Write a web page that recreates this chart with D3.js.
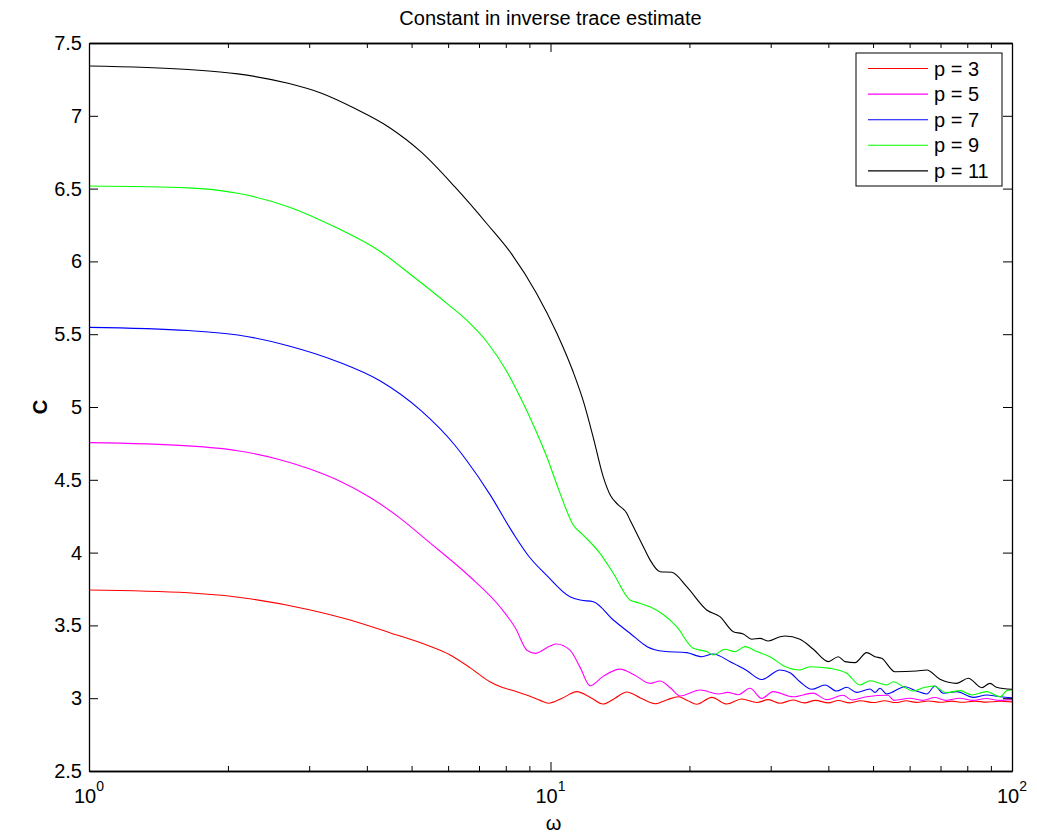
<!DOCTYPE html>
<html>
<head>
<meta charset="utf-8">
<script src="https://cdn.jsdelivr.net/npm/d3@7"></script>
<style>
  body { margin: 0; background: #fff; }
  text { font-family: "Liberation Sans", Arial, sans-serif; }
</style>
</head>
<body>
<div id="chart"></div>
<script>
// Constant in inverse trace estimate as [omega, C]

const p3 = [[1,3.743],[1.64,3.724],[2.23,3.683],[3.0,3.608],[3.68,3.537],[4.5,3.448],[5.39,3.365],[6.06,3.297],
  [6.69,3.21],[7.39,3.113],[7.77,3.08],[8.45,3.045],[9.0,3.015],[9.5,2.985],[9.89,2.965],[10.6,3.0],[11.4,3.045],
  [12.2,3.005],[13.0,2.96],[13.8,3.0],[14.63,3.043],[15.7,3.0],[16.84,2.962],[17.9,2.99],[18.92,3.01],
  [19.8,2.985],[20.74,2.958],[22.36,3.006],[24.09,2.96],[25.96,2.994],[27.99,2.97],[29.65,2.99],[31.43,2.965],
  [33.5,2.988],[35.5,2.968],[37.5,2.985],[40,2.968],[42,2.984],[44.5,2.968],[47,2.983],[50,2.97],[53,2.982],
  [56,2.97],[59,2.982],[62,2.971],[66,2.981],[70,2.972],[74,2.98],[78,2.972],[83,2.98],[88,2.973],[94,2.979],[100,2.975]];

const p5 = [[1,4.755],[1.64,4.733],[2.1,4.7],[2.57,4.641],[3.01,4.574],[3.5,4.49],[4.06,4.38],[4.72,4.237],
  [5.39,4.086],[6.69,3.834],[7.77,3.628],[8.4,3.48],[8.88,3.331],[9.26,3.308],[10,3.36],
  [10.28,3.372],[11.02,3.33],[11.6,3.21],[12.18,3.086],[13,3.15],[14.14,3.2],[15.2,3.16],[16.43,3.102],
  [17.27,3.118],[18.2,3.07],[19.08,3.015],[21.09,3.056],[23.1,3.029],[24.2,3.04],[25.5,3.024],[27.06,3.068],
  [28.68,2.999],[30.39,3.045],[33.55,3.01],[37.05,3.035],[39.68,2.99],[43.03,3.02],[45,2.988],[48.43,3.01],
  [53.85,3.02],[55.5,2.985],[60,3.0],[64,2.985],[68,3.005],[72,2.985],[77,3.0],[82,2.985],[88,2.998],[94,2.985],[100,2.99]];

const p7 = [[1,5.547],[1.64,5.525],[2.1,5.495],[2.7,5.421],[3.46,5.311],[4.27,5.18],[5.25,4.973],[6.2,4.739],
  [6.57,4.636],[7.39,4.4],[8.31,4.13],[9.0,3.97],[9.8,3.846],[11.02,3.697],[11.6,3.674],[12.38,3.663],
  [13.68,3.537],[14.87,3.446],[16.2,3.354],[17.6,3.322],[19.73,3.313],[21.27,3.285],[22.53,3.304],[24.48,3.251],
  [25.74,3.216],[26.62,3.19],[28.68,3.128],[31.43,3.194],[33.04,3.175],[34.72,3.113],[36.81,3.061],
  [39.34,3.091],[41.7,3.049],[43.83,3.075],[46.07,3.04],[49.24,3.063],[50.48,3.04],[51.76,3.068],[53.5,3.029],
  [58.64,3.079],[62.16,3.049],[65.35,3.029],[68.1,3.084],[70.98,3.034],[75.9,3.045],[82.44,3.006],[88.1,3.022],
  [94.4,3.01],[100,3.003]];

const p9 = [[1,6.518],[1.64,6.505],[2.1,6.468],[2.7,6.376],[3.46,6.227],[4.27,6.07],[5.0,5.905],[5.96,5.712],
  [6.6,5.593],[7.27,5.45],[8.0,5.256],[8.59,5.07],[9.2,4.87],[9.81,4.66],[10.49,4.407],[11.2,4.19],
  [11.78,4.12],[12.8,3.995],[13.68,3.858],[14.87,3.674],[15.63,3.652],[16.43,3.628],[18.77,3.491],[20.39,3.343],
  [21.8,3.32],[22.53,3.297],[23.88,3.336],[25.11,3.32],[26.39,3.354],[27.99,3.32],[29.89,3.285],[32.22,3.218],
  [34.72,3.194],[36.5,3.216],[40.33,3.205],[43.83,3.171],[46.83,3.091],[49.24,3.12],[53.5,3.091],[55.3,3.113],
  [58.15,3.079],[61.1,3.049],[64.24,3.072],[67.5,3.084],[72.2,3.038],[77.2,3.052],[81.8,3.022],[88.1,3.045],
  [94.4,3.01],[97.4,3.052],[100,3.056]];

const p11 = [[1,7.342],[1.64,7.318],[2.1,7.288],[2.7,7.223],[3.19,7.155],[3.77,7.05],[4.45,6.925],[5.25,6.75],
  [6.2,6.513],[7.32,6.25],[8.24,6.05],[9.33,5.78],[10.31,5.51],[11.2,5.24],[11.78,5.04],[12.38,4.79],[13.01,4.52],
  [13.5,4.39],[14.0,4.33],[14.63,4.27],[14.87,4.224],[16.02,4.018],[16.43,3.95],[17.27,3.869],[18.31,3.865],
  [19.73,3.766],[21.8,3.606],[23.29,3.56],[24.9,3.457],[26.17,3.441],[27.29,3.405],[28.44,3.411],[29.65,3.393],
  [31.43,3.422],[32.22,3.427],[34.72,3.405],[37.11,3.336],[39.99,3.251],[42.03,3.285],[43.46,3.251],[45.69,3.244],
  [48.43,3.313],[50.48,3.285],[52.2,3.274],[55.78,3.182],[62.16,3.187],[65.35,3.194],[69.8,3.13],[75.9,3.102],
  [80.4,3.137],[86.0,3.072],[89.6,3.102],[92.6,3.075],[100,3.061]];

const seriesNames = ["p = 3", "p = 5", "p = 7", "p = 9", "p = 11"];
const seriesColors = ["#ff0000", "#ff00ff", "#0000ff", "#00ff00", "#000000"];
const seriesData = [p3, p5, p7, p9, p11];

const xMajorTicks = [1, 10, 100];
const xMinorTicks = [2,3,4,5,6,7,8,9,20,30,40,50,60,70,80,90];
const yTicks = [2.5, 3, 3.5, 4, 4.5, 5, 5.5, 6, 6.5, 7, 7.5];

// sizes
const svgWidth = 1037, svgHeight = 835;
const margin = { top: 43, right: 25, bottom: 64, left: 89 };
const width = svgWidth - margin.left - margin.right;
const height = svgHeight - margin.top - margin.bottom;

const svg = d3.select("#chart").append("svg")
  .attr("width", svgWidth)
  .attr("height", svgHeight);

const g = svg.append("g")
  .attr("transform", `translate(${margin.left},${margin.top})`);

const x = d3.scaleLog().domain([1, 100]).range([0, width]);
const y = d3.scaleLinear().domain([2.5, 7.5]).range([height, 0]);

// curves (clipped to the axes box)
svg.append("defs").append("clipPath").attr("id", "clip")
  .append("rect").attr("width", width).attr("height", height);

const line = d3.line()
  .x(d => x(d[0]))
  .y(d => y(d[1]))
  .curve(d3.curveMonotoneX);

g.append("g").attr("clip-path", "url(#clip)")
  .selectAll("path")
  .data(seriesData)
  .join("path")
  .attr("d", line)
  .attr("fill", "none")
  .attr("stroke", (d, i) => seriesColors[i])
  .attr("stroke-width", 1.1);

// axes: ticks point inward on all four sides
function styleAxis(sel) {
  sel.selectAll(".domain").attr("stroke", "#000").attr("stroke-width", 1.3);
  sel.selectAll(".tick line").attr("stroke", "#000").attr("stroke-width", 1);
  sel.selectAll("text").attr("font-size", 20).attr("fill", "#000")
    .style("font-family", '"Liberation Sans", Arial, sans-serif');
}

g.append("g").attr("transform", `translate(0,${height})`)
  .call(d3.axisBottom(x).tickValues(xMajorTicks).tickSize(-9).tickSizeOuter(0).tickFormat(""))
  .call(styleAxis);
g.append("g").attr("transform", `translate(0,${height})`)
  .call(d3.axisBottom(x).tickValues(xMinorTicks).tickSize(-5).tickSizeOuter(0).tickFormat(""))
  .call(styleAxis);
g.append("g")
  .call(d3.axisTop(x).tickValues(xMajorTicks).tickSize(-9).tickSizeOuter(0).tickFormat(""))
  .call(styleAxis);
g.append("g")
  .call(d3.axisTop(x).tickValues(xMinorTicks).tickSize(-5).tickSizeOuter(0).tickFormat(""))
  .call(styleAxis);
g.append("g")
  .call(d3.axisLeft(y).tickValues(yTicks).tickSize(-9).tickSizeOuter(0).tickPadding(7).tickFormat(d3.format("")))
  .call(styleAxis);
g.append("g").attr("transform", `translate(${width},0)`)
  .call(d3.axisRight(y).tickValues(yTicks).tickSize(-9).tickSizeOuter(0).tickFormat(""))
  .call(styleAxis);

// x tick labels as 10 with superscript exponent
const xLab = g.append("g").selectAll("text")
  .data(xMajorTicks)
  .join("text")
  .attr("x", d => x(d))
  .attr("y", height + 32)
  .attr("text-anchor", "middle")
  .attr("font-size", 20);
xLab.append("tspan").text("10");
xLab.append("tspan")
  .attr("dy", -12)
  .attr("font-size", 14)
  .text(d => Math.round(Math.log10(d)));

// title and axis labels
svg.append("text")
  .attr("x", margin.left + width / 2)
  .attr("y", 25)
  .attr("text-anchor", "middle")
  .attr("font-size", 20)
  .text("Constant in inverse trace estimate");

svg.append("text")
  .attr("x", margin.left + width / 2 + 3)
  .attr("y", 830)
  .attr("text-anchor", "middle")
  .attr("font-size", 20)
  .text("ω");

svg.append("text")
  .attr("transform", `translate(47,${margin.top + height / 2}) rotate(-90)`)
  .attr("text-anchor", "middle")
  .attr("font-size", 20)
  .attr("font-weight", "bold")
  .text("C");

// legend
const legend = g.append("g").attr("transform", `translate(${856 - margin.left},${53 - margin.top})`);
legend.append("rect")
  .attr("width", 146).attr("height", 133)
  .attr("fill", "#fff").attr("stroke", "#000").attr("stroke-width", 1);

const item = legend.selectAll("g.item")
  .data(seriesNames)
  .join("g")
  .attr("class", "item")
  .attr("transform", (d, i) => `translate(0,${15.5 + i * 25.6})`);
item.append("line")
  .attr("x1", 12).attr("x2", 72)
  .attr("stroke", (d, i) => seriesColors[i])
  .attr("stroke-width", 1.1);
item.append("text")
  .attr("x", 78)
  .attr("dy", "0.35em")
  .attr("font-size", 20)
  .text(d => d);
</script>
</body>
</html>
